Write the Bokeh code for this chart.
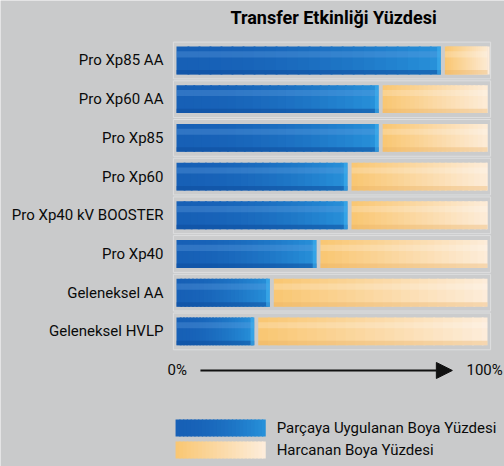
import numpy as np
from bokeh.plotting import figure
from bokeh.models import Range1d, Arrow, NormalHead
from bokeh.core.properties import value
from bokeh.embed import file_html
from bokeh.resources import INLINE

# ---- data ----
categories = ["Pro Xp85 AA", "Pro Xp60 AA", "Pro Xp85", "Pro Xp60",
              "Pro Xp40 kV BOOSTER", "Pro Xp40", "Geleneksel AA", "Geleneksel HVLP"]
applied = [85, 65, 65, 55, 55, 45, 30, 25]          # Parçaya Uygulanan Boya Yüzdesi
title_text = "Transfer Etkinliği Yüzdesi"
series_names = ["Parçaya Uygulanan Boya Yüzdesi", "Harcanan Boya Yüzdesi"]
axis_labels = ["0%", "100%"]
axis_values = [0, 100]

BG = "#c9cacb"
FONT = "Roboto"
W, H = 504, 466

p = figure(width=W, height=H, output_backend="svg", toolbar_location=None,
           x_range=Range1d(-56.59, 105.47), y_range=Range1d(10.491, -1.550),
           min_border=0)
p.axis.visible = False
p.grid.visible = False
p.outline_line_color = None
p.background_fill_color = BG
p.border_fill_color = BG

n = len(categories)
rows = np.arange(n)
applied_a = np.array(applied, dtype=float)
wasted = 100 - applied_a
BH = 0.72
GAP = 1.3

# row panels
p.hbar(y=rows, left=-1.0, right=101.0, height=0.95, fill_color="#cbcccd",
       line_color="#dedfe0", line_width=1)

def lerp(c1, c2, t):
    a = np.array([int(c1[i:i+2], 16) for i in (1, 3, 5)], float)
    b = np.array([int(c2[i:i+2], 16) for i in (1, 3, 5)], float)
    c = a + (b - a) * t
    return "#%02x%02x%02x" % tuple(int(round(x)) for x in c)

NS = 24
BLUE = ("#1760b6", "#2894dc")
ORANGE = ("#f9c774", "#fdeede")
# blue gradient
for j in range(NS):
    t0, t1 = j / NS, (j + 1) / NS
    p.hbar(y=rows, left=applied_a * t0, right=np.minimum(applied_a * t1 + 0.6, applied_a), height=BH,
           fill_color=lerp(BLUE[0], BLUE[1], t0 ** 1.8), line_color=None)
# orange gradient
for j in range(NS):
    t0, t1 = j / NS, (j + 1) / NS
    left = applied_a + GAP + wasted * t0
    right = np.minimum(applied_a + GAP + wasted * t1 + 0.6, 100)
    p.hbar(y=rows, left=left, right=right, height=BH,
           fill_color=lerp(ORANGE[0], ORANGE[1], t0), line_color=None)

# 3D shading: highlight top band, darker bottom bevel
p.hbar(y=rows - BH * 0.22, left=0, right=applied_a, height=BH * 0.22,
       fill_color="#6aa6e6", fill_alpha=0.3, line_color=None)
p.hbar(y=rows + BH * 0.42, left=0, right=applied_a, height=BH * 0.16,
       fill_color="#0f4f9e", fill_alpha=0.55, line_color=None)
p.hbar(y=rows - BH * 0.22, left=applied_a + GAP, right=100, height=BH * 0.22,
       fill_color="#ffffff", fill_alpha=0.2, line_color=None)
p.hbar(y=rows + BH * 0.42, left=applied_a + GAP, right=100, height=BH * 0.16,
       fill_color="#e8b060", fill_alpha=0.35, line_color=None)
# end caps
p.hbar(y=rows, left=applied_a - 1.2, right=applied_a, height=BH,
       fill_color="#3fb0ee", fill_alpha=0.6, line_color=None)

# category labels
p.text(x=-4.2, y=rows, text=categories, text_align="right", text_baseline="middle",
       text_font=value(FONT), text_font_size="15px", text_color="#0a0a0a")

# title
p.text(x=[50.5], y=[-1.12], text=[title_text], text_align="center", text_baseline="middle",
       text_font=value(FONT), text_font_size="18px", text_font_style="bold", text_color="#000000")

# axis with arrow
AY = 8.01
p.text(x=[axis_values[0] - 2.9], y=[AY], text=[axis_labels[0]], text_align="left",
       text_baseline="middle", text_font=value(FONT), text_font_size="15px", text_color="#0a0a0a")
p.text(x=[axis_values[1] + 4.9], y=[AY], text=[axis_labels[1]], text_align="right",
       text_baseline="middle", text_font=value(FONT), text_font_size="15px", text_color="#0a0a0a")
p.add_layout(Arrow(end=NormalHead(size=16, fill_color="#111111", line_color="#111111"),
                   x_start=axis_values[0] + 7.7, y_start=AY, x_end=axis_values[1] - 11.3, y_end=AY,
                   line_color="#111111", line_width=2))

# legend
LY = [9.496, 10.065]
for k in range(NS):
    t0, t1 = k / NS, (k + 1) / NS
    p.hbar(y=[LY[0]], left=[-0.3 + 29.0 * t0], right=[min(-0.3 + 29.0 * t1 + 0.4, 28.7)], height=0.44,
           fill_color=lerp(BLUE[0], BLUE[1], t0 ** 1.8), line_color=None)
    p.hbar(y=[LY[1]], left=[-0.3 + 29.0 * t0], right=[min(-0.3 + 29.0 * t1 + 0.4, 28.7)], height=0.44,
           fill_color=lerp(ORANGE[0], ORANGE[1], t0), line_color=None)
p.text(x=[32.2, 32.2], y=LY, text=series_names, text_align="left", text_baseline="middle",
       text_font=value(FONT), text_font_size="15px", text_color="#0a0a0a")

html = file_html(p, INLINE)
html = html.replace("<body>", "<body style=\"background:%s;margin:0;\">" % BG, 1)
open("out.html", "w").write(html)
